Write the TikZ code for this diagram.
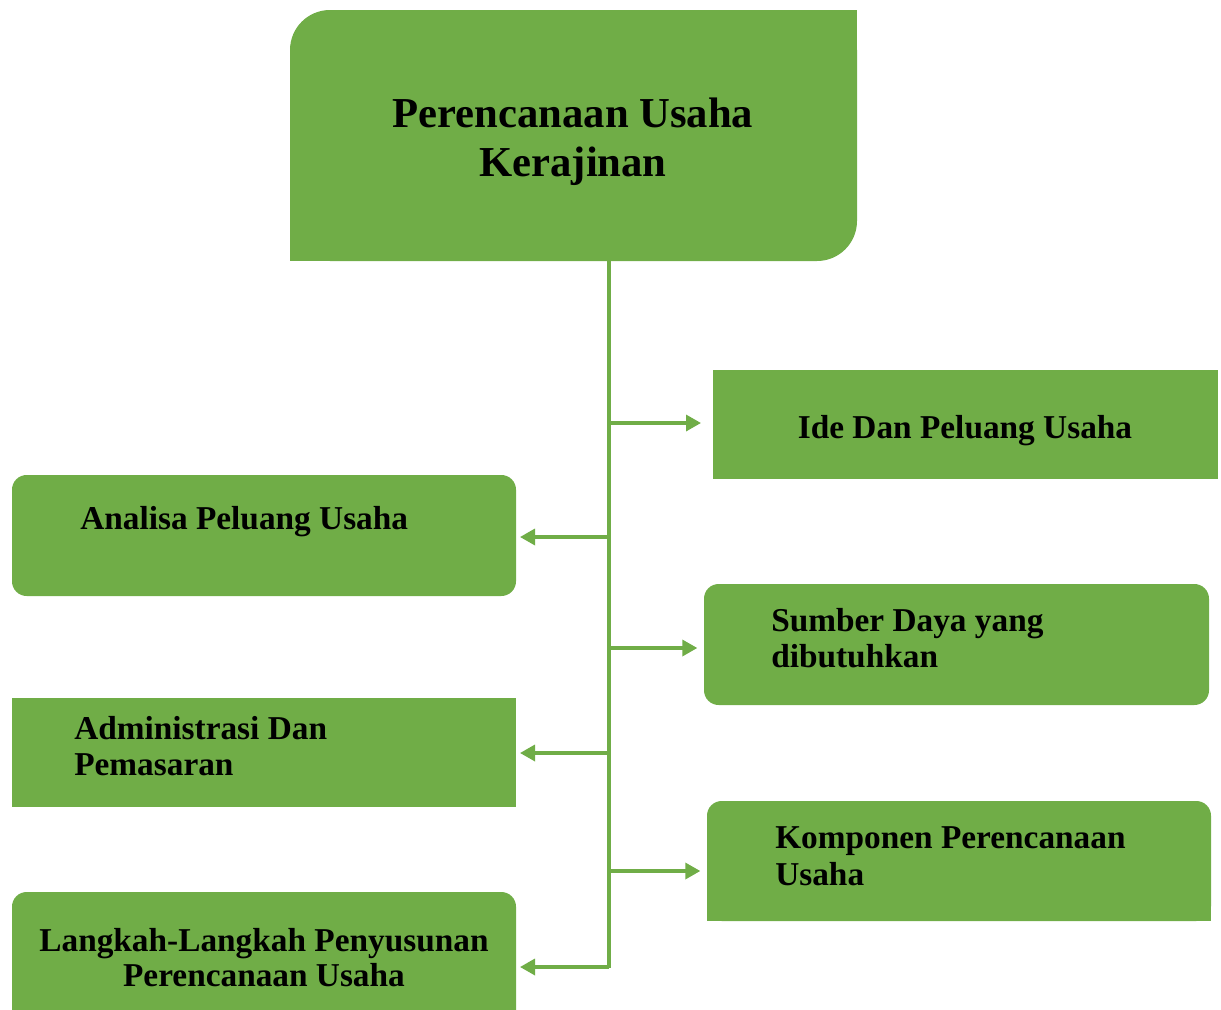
\documentclass[tikz,border=0pt]{standalone}
\usepackage{fontspec}
\setmainfont{Liberation Serif}
\usetikzlibrary{arrows.meta,positioning,calc,fit}
\definecolor{leafgreen}{RGB}{112,173,71}

\begin{document}
\begin{tikzpicture}[x=0.75pt,y=-0.75pt,
  box/.style={fill=leafgreen,inner sep=0pt,outer sep=0pt},
  boxtext/.style={font=\fontsize{25}{27.5}\selectfont\bfseries,inner sep=0pt,align=left},
  conn/.style={leafgreen,line width=2.5pt,-{Triangle[length=11.25pt,width=12pt]}}]
  \useasboundingbox (0,0) rectangle (1221,1010);
  % Top box
  \node[box,rounded corners=30pt,fit={(290,10) (857,261)}] (title) {};
  \fill[leafgreen] (title.north east) rectangle ++(-45,45);
  \fill[leafgreen] (title.south west) rectangle ++(45,-45);
  \node[boxtext,align=center,font=\fontsize{32}{36.75}\selectfont\bfseries] (title-txt) at (573,142) {Perencanaan Usaha\\Kerajinan};
  % Right side boxes
  \node[box,fit={(713,370) (1218,479)}] (ide) {};
  \node[boxtext] (ide-txt) at (965,431) {Ide Dan Peluang Usaha};
  \node[box,rounded corners=11pt,fit={(704,584) (1209,705)}] (sumber) {};
  \node[boxtext,anchor=west] (sumber-txt) at (771,638) {Sumber Daya yang\\dibutuhkan};
  \node[box,rounded corners=11pt,fit={(707,801) (1211,921)}] (komponen) {};
  \fill[leafgreen] (komponen.south west) rectangle ++(20,-20);
  \fill[leafgreen] (komponen.south east) rectangle ++(-20,-20);
  \node[boxtext,anchor=west] (komponen-txt) at (775,856) {Komponen Perencanaan\\Usaha};
  % Left side boxes
  \node[box,rounded corners=11pt,fit={(12,475) (516,596)}] (analisa) {};
  \node[boxtext,anchor=west] (analisa-txt) at (80,522) {Analisa Peluang Usaha};
  \node[box,fit={(12,698) (516,807)}] (admin) {};
  \node[boxtext,anchor=west] (admin-txt) at (74,746) {Administrasi Dan\\Pemasaran};
  \node[box,rounded corners=11pt,fit={(12,892) (516,1040)}] (langkah) {};
  \node[boxtext,align=center,font=\fontsize{25}{26.25}\selectfont\bfseries] (langkah-txt) at (264,958) {Langkah-Langkah Penyusunan\\Perencanaan Usaha};
  % Trunk and branches
  \coordinate (trunktop) at (609,261);
  \coordinate (trunkbot) at (609,968);
  \draw[leafgreen,line width=2.5pt] (trunktop) -- (trunkbot);
  \coordinate (b1) at (609,423);
  \coordinate (b2) at (609,537);
  \coordinate (b3) at (609,648);
  \coordinate (b4) at (609,753);
  \coordinate (b5) at (609,871);
  \coordinate (b6) at (609,967);
  \draw[conn,shorten >=9pt] (b1) -- (b1 -| ide.west);
  \draw[conn,shorten >=3pt] (b2) -- (b2 -| analisa.east);
  \draw[conn,shorten >=5pt] (b3) -- (b3 -| sumber.west);
  \draw[conn,shorten >=3pt] (b4) -- (b4 -| admin.east);
  \draw[conn,shorten >=5pt] (b5) -- (b5 -| komponen.west);
  \draw[conn,shorten >=3pt] (b6) -- (b6 -| langkah.east);
\end{tikzpicture}
\end{document}
